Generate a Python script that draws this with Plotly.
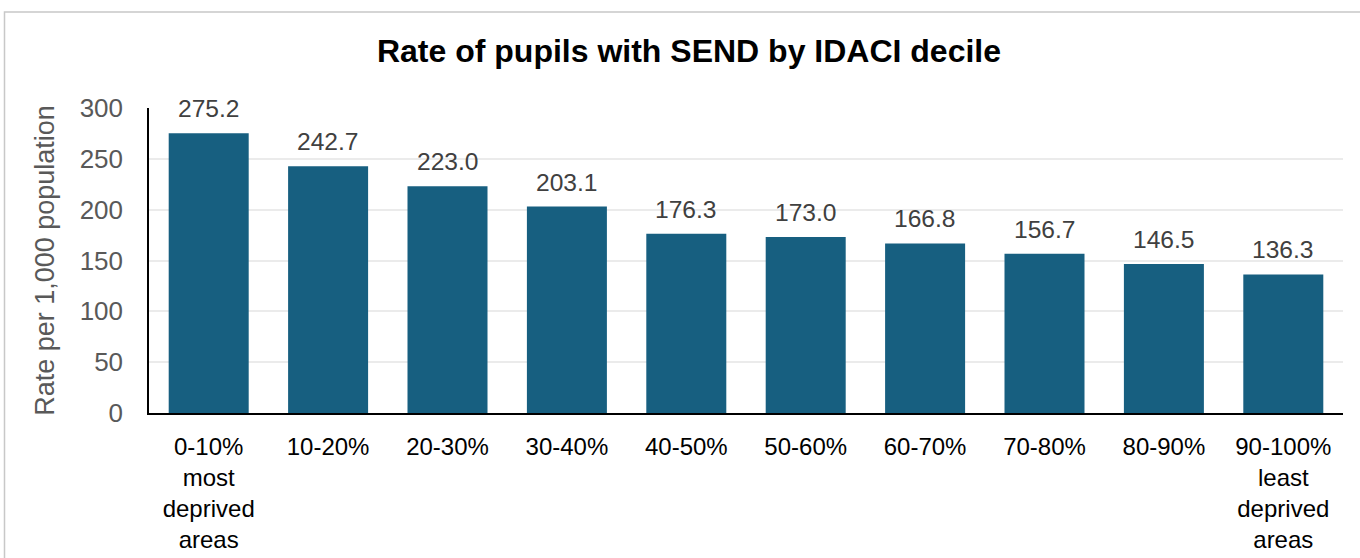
import plotly.graph_objects as go

categories = ["0-10%<br>most<br>deprived<br>areas", "10-20%", "20-30%", "30-40%", "40-50%",
              "50-60%", "60-70%", "70-80%", "80-90%", "90-100%<br>least<br>deprived<br>areas"]
values = [275.2, 242.7, 223.0, 203.1, 176.3, 173.0, 166.8, 156.7, 146.5, 136.3]
y_ticks = [0, 50, 100, 150, 200, 250, 300]

W, H = 1360, 558
L, R, T, B = 149, 17, 108, 145
pw, ph = W - L - R, H - T - B

FONT = "Arial, Liberation Sans, sans-serif"
BAR = "#175f80"

fig = go.Figure()
fig.add_trace(go.Bar(x=list(range(len(values))), y=values, marker=dict(color=BAR, line=dict(width=0)),
                     hoverinfo="skip"))

for i, v in enumerate(values):
    fig.add_annotation(x=i, y=v, text=f"{v:.1f}", showarrow=False, yanchor="bottom",
                       yshift=9, font=dict(family=FONT, size=24.6, color="#404040"))

# chart border
fig.add_shape(type="rect", xref="paper", yref="paper",
              x0=(4.5 - L) / pw, x1=(W + 10 - L) / pw,
              y0=-(H + 10 - (T + ph)) / ph, y1=(T + ph - 12) / ph,
              line=dict(color="#c8c8c8", width=1.5), layer="below")

fig.update_layout(
    width=W, height=H,
    margin=dict(l=L, r=R, t=T, b=B, autoexpand=False),
    paper_bgcolor="white", plot_bgcolor="white",
    bargap=0.33, showlegend=False,
    title=dict(text="<b>Rate of pupils with SEND by IDACI decile</b>", x=689 / W, xanchor="center",
               y=1 - 51 / H, yanchor="middle", xref="container", yref="container",
               font=dict(family=FONT, size=32, color="#000000")),
    font=dict(family=FONT),
)
fig.update_xaxes(tickmode="array", tickvals=list(range(len(values))), ticktext=categories,
                 range=[-0.5, len(values) - 0.5], showline=True, linecolor="#000000", linewidth=1.5,
                 showgrid=False, ticks="", ticklabelstandoff=11, automargin=False,
                 tickfont=dict(family=FONT, size=24, color="#000000"), fixedrange=True)
fig.update_yaxes(range=[0, 300], tickmode="array", tickvals=y_ticks, showline=True,
                 linecolor="#000000", linewidth=1.5, showgrid=True, gridcolor="#ebebeb", gridwidth=1.5,
                 ticks="", ticklabelstandoff=19, zeroline=False, automargin=False,
                 tickfont=dict(family=FONT, size=26, color="#595959"),
                 title=dict(text="Rate per 1,000 population", standoff=17,
                            font=dict(family=FONT, size=27, color="#595959")), fixedrange=True)

fig.write_html("out.html", config={"displayModeBar": False},
               post_script="document.body.style.margin='0';document.body.style.overflow='hidden';")
